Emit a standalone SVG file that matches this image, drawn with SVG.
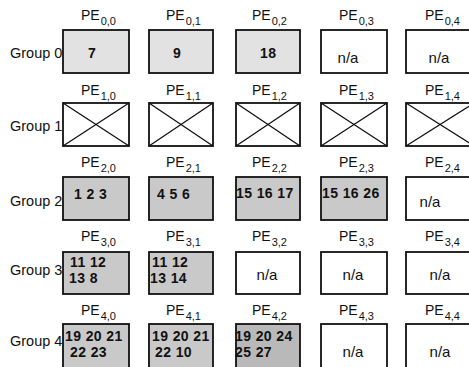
<svg xmlns="http://www.w3.org/2000/svg" width="469" height="367" viewBox="0 0 469 367">
<defs>
<style>
text{font-family:"Liberation Sans",Arial,sans-serif;fill:#111}
.pe{font-size:14px}
.sub{font-size:11px}
.grp{font-size:14.5px}
.num{font-size:14px;font-weight:bold;letter-spacing:0.4px}
.na{font-size:15px;text-anchor:middle}
.box{stroke:#111;stroke-width:1.8;fill:#fff}
.light{fill:#e2e2e2}
.mid{fill:#c9c9c9}
.dark{fill:#b9b9b9}
.x{stroke:#111;stroke-width:1.3}
</style>
</defs>
<rect width="469" height="367" fill="#fff"/>
<!-- group labels -->
<g id="group-labels">
<text class="grp" x="10" y="58">Group 0</text>
<text class="grp" x="10" y="131">Group 1</text>
<text class="grp" x="10" y="206">Group 2</text>
<text class="grp" x="10" y="275">Group 3</text>
<text class="grp" x="10" y="346">Group 4</text>
</g>
<!-- Row 0 -->
<g id="pe00"><text class="pe" x="81" y="20">PE<tspan class="sub" dx="1" dy="5">0,0</tspan></text><rect class="box light" x="63" y="30" width="66" height="43"/><text class="num" x="88" y="58">7</text></g>
<g id="pe01"><text class="pe" x="166" y="20">PE<tspan class="sub" dx="1" dy="5">0,1</tspan></text><rect class="box light" x="149" y="30" width="64" height="43"/><text class="num" x="173" y="58">9</text></g>
<g id="pe02"><text class="pe" x="252" y="20">PE<tspan class="sub" dx="1" dy="5">0,2</tspan></text><rect class="box light" x="236" y="30" width="64" height="43"/><text class="num" x="260" y="58">18</text></g>
<g id="pe03"><text class="pe" x="339" y="20">PE<tspan class="sub" dx="1" dy="5">0,3</tspan></text><rect class="box" x="321" y="30" width="66" height="43"/><text class="na" x="348" y="63">n/a</text></g>
<g id="pe04"><text class="pe" x="425" y="20">PE<tspan class="sub" dx="1" dy="5">0,4</tspan></text><rect class="box" x="406" y="30" width="68" height="43"/><text class="na" x="439" y="63">n/a</text></g>
<!-- Row 1 -->
<g id="pe10"><text class="pe" x="81" y="95">PE<tspan class="sub" dx="1" dy="5">1,0</tspan></text><rect class="box" x="63" y="103" width="66" height="43"/><path class="x" d="M63 103L129 146M129 103L63 146"/></g>
<g id="pe11"><text class="pe" x="166" y="95">PE<tspan class="sub" dx="1" dy="5">1,1</tspan></text><rect class="box" x="149" y="103" width="64" height="43"/><path class="x" d="M149 103L213 146M213 103L149 146"/></g>
<g id="pe12"><text class="pe" x="252" y="95">PE<tspan class="sub" dx="1" dy="5">1,2</tspan></text><rect class="box" x="236" y="103" width="64" height="43"/><path class="x" d="M236 103L300 146M300 103L236 146"/></g>
<g id="pe13"><text class="pe" x="339" y="95">PE<tspan class="sub" dx="1" dy="5">1,3</tspan></text><rect class="box" x="321" y="103" width="66" height="43"/><path class="x" d="M321 103L387 146M387 103L321 146"/></g>
<g id="pe14"><text class="pe" x="425" y="95">PE<tspan class="sub" dx="1" dy="5">1,4</tspan></text><rect class="box" x="406" y="103" width="68" height="43"/><path class="x" d="M406 103L474 146M474 103L406 146"/></g>
<!-- Row 2 -->
<g id="pe20"><text class="pe" x="81" y="167">PE<tspan class="sub" dx="1" dy="5">2,0</tspan></text><rect class="box mid" x="63" y="177" width="66" height="43"/><text class="num" x="74" y="199">1 2 3</text></g>
<g id="pe21"><text class="pe" x="166" y="167">PE<tspan class="sub" dx="1" dy="5">2,1</tspan></text><rect class="box mid" x="149" y="177" width="64" height="43"/><text class="num" x="157" y="199">4 5 6</text></g>
<g id="pe22"><text class="pe" x="252" y="167">PE<tspan class="sub" dx="1" dy="5">2,2</tspan></text><rect class="box mid" x="236" y="177" width="64" height="43"/><text class="num" x="236" y="198">15 16 17</text></g>
<g id="pe23"><text class="pe" x="339" y="167">PE<tspan class="sub" dx="1" dy="5">2,3</tspan></text><rect class="box mid" x="321" y="177" width="66" height="43"/><text class="num" x="322" y="198">15 16 26</text></g>
<g id="pe24"><text class="pe" x="425" y="167">PE<tspan class="sub" dx="1" dy="5">2,4</tspan></text><rect class="box" x="406" y="177" width="68" height="43"/><text class="na" x="430" y="207">n/a</text></g>
<!-- Row 3 -->
<g id="pe30"><text class="pe" x="81" y="241">PE<tspan class="sub" dx="1" dy="5">3,0</tspan></text><rect class="box mid" x="63" y="252" width="66" height="42"/><text class="num" x="70" y="267">11 12</text><text class="num" x="69" y="283">13 8</text></g>
<g id="pe31"><text class="pe" x="166" y="241">PE<tspan class="sub" dx="1" dy="5">3,1</tspan></text><rect class="box mid" x="149" y="252" width="64" height="42"/><text class="num" x="152" y="267">11 12</text><text class="num" x="150" y="283">13 14</text></g>
<g id="pe32"><text class="pe" x="252" y="241">PE<tspan class="sub" dx="1" dy="5">3,2</tspan></text><rect class="box" x="236" y="252" width="64" height="42"/><text class="na" x="267" y="280">n/a</text></g>
<g id="pe33"><text class="pe" x="339" y="241">PE<tspan class="sub" dx="1" dy="5">3,3</tspan></text><rect class="box" x="321" y="252" width="66" height="42"/><text class="na" x="353" y="280">n/a</text></g>
<g id="pe34"><text class="pe" x="425" y="241">PE<tspan class="sub" dx="1" dy="5">3,4</tspan></text><rect class="box" x="406" y="252" width="68" height="42"/><text class="na" x="440" y="280">n/a</text></g>
<!-- Row 4 -->
<g id="pe40"><text class="pe" x="81" y="315">PE<tspan class="sub" dx="1" dy="5">4,0</tspan></text><rect class="box mid" x="63" y="324" width="66" height="46"/><text class="num" x="65" y="341">19 20 21</text><text class="num" x="70" y="357">22 23</text></g>
<g id="pe41"><text class="pe" x="166" y="315">PE<tspan class="sub" dx="1" dy="5">4,1</tspan></text><rect class="box mid" x="149" y="324" width="64" height="46"/><text class="num" x="152" y="341">19 20 21</text><text class="num" x="155" y="357">22 10</text></g>
<g id="pe42"><text class="pe" x="252" y="315">PE<tspan class="sub" dx="1" dy="5">4,2</tspan></text><rect class="box dark" x="236" y="324" width="64" height="46"/><text class="num" x="235" y="341">19 20 24</text><text class="num" x="235" y="357">25 27</text></g>
<g id="pe43"><text class="pe" x="339" y="315">PE<tspan class="sub" dx="1" dy="5">4,3</tspan></text><rect class="box" x="321" y="324" width="66" height="46"/><text class="na" x="353" y="357">n/a</text></g>
<g id="pe44"><text class="pe" x="425" y="315">PE<tspan class="sub" dx="1" dy="5">4,4</tspan></text><rect class="box" x="406" y="324" width="68" height="46"/><text class="na" x="440" y="357">n/a</text></g>
<g id="connectors"/>
</svg>
